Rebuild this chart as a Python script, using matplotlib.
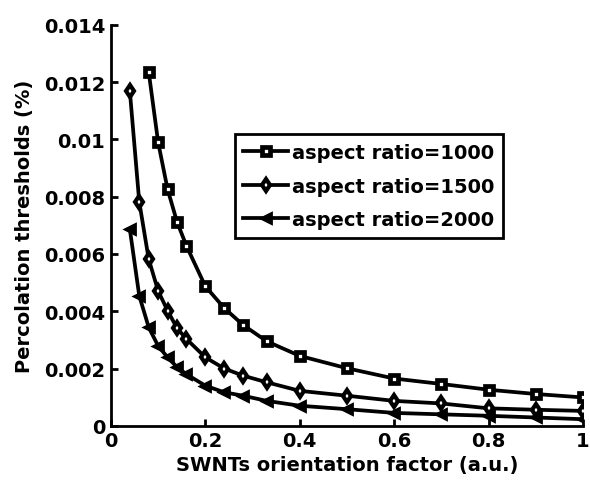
import matplotlib
matplotlib.use("Agg")
import matplotlib.pyplot as plt

x_1000 = [0.08, 0.1, 0.12, 0.14, 0.16, 0.2, 0.24, 0.28, 0.33, 0.4, 0.5, 0.6, 0.7, 0.8, 0.9, 1.0]
y_1000 = [0.01236, 0.0099, 0.00826, 0.00712, 0.00628, 0.00487, 0.00411, 0.00352, 0.00295,
          0.00244, 0.00201, 0.00165, 0.00146, 0.00126, 0.00111, 0.00099]

x_1500 = [0.04, 0.06, 0.08, 0.1, 0.12, 0.14, 0.16, 0.2, 0.24, 0.28, 0.33, 0.4, 0.5, 0.6, 0.7, 0.8, 0.9, 1.0]
y_1500 = [0.0117, 0.00782, 0.00582, 0.00471, 0.00402, 0.00341, 0.00303, 0.00239, 0.00200,
          0.00175, 0.00152, 0.00122, 0.00105, 0.00087, 0.00078, 0.00061, 0.00056, 0.00052]

x_2000 = [0.04, 0.06, 0.08, 0.1, 0.12, 0.14, 0.16, 0.2, 0.24, 0.28, 0.33, 0.4, 0.5, 0.6, 0.7, 0.8, 0.9, 1.0]
y_2000 = [0.00687, 0.00454, 0.00344, 0.00279, 0.00239, 0.00205, 0.00180, 0.00140, 0.00117,
          0.00105, 0.00087, 0.00070, 0.00058, 0.00045, 0.00040, 0.00035, 0.00029, 0.00023]

labels = ["aspect ratio=1000", "aspect ratio=1500", "aspect ratio=2000"]
x_ticks = [0, 0.2, 0.4, 0.6, 0.8, 1]
x_ticklabels = ["0", "0.2", "0.4", "0.6", "0.8", "1"]
y_ticks = [0, 0.002, 0.004, 0.006, 0.008, 0.01, 0.012, 0.014]
y_ticklabels = ["0", "0.002", "0.004", "0.006", "0.008", "0.01", "0.012", "0.014"]

plt.rcParams['font.family'] = ['DejaVu Sans']
plt.rcParams['font.weight'] = 'bold'

fig = plt.figure(figsize=(5.9, 4.85), dpi=100)
ax = fig.add_axes([0.188, 0.120, 0.800, 0.827])

lw = 2.7
ax.plot(x_1000, y_1000, color='black', lw=lw, marker='s', ms=6.0, mfc='white', mec='black', mew=3.4, label=labels[0])
ax.plot(x_1500, y_1500, color='black', lw=lw, marker='d', ms=6.0, mfc='white', mec='black', mew=3.0, label=labels[1])
ax.plot(x_2000, y_2000, color='black', lw=lw, marker='<', ms=7.5, mfc='black', mec='black', mew=2.0, label=labels[2])

ax.set_xlim(0, 1)
ax.set_ylim(0, 0.014)
ax.set_xticks(x_ticks)
ax.set_xticklabels(x_ticklabels)
ax.set_yticks(y_ticks)
ax.set_yticklabels(y_ticklabels)
ax.tick_params(direction='in', length=5, width=2, labelsize=14, pad=4)
for lab in ax.get_xticklabels() + ax.get_yticklabels():
    lab.set_fontweight('bold')
ax.spines['top'].set_visible(False)
ax.spines['right'].set_visible(False)
for s in ['left', 'bottom']:
    ax.spines[s].set_linewidth(2)

ax.set_xlabel("SWNTs orientation factor (a.u.)", fontsize=14, fontweight='bold', labelpad=3)
ax.set_ylabel("Percolation thresholds (%)", fontsize=14, fontweight='bold', labelpad=7)

leg = ax.legend(loc='upper left', bbox_to_anchor=(0.262, 0.727), fontsize=14, frameon=True,
                fancybox=False, edgecolor='black', handlelength=2.3, handletextpad=0.2,
                borderpad=0.45, labelspacing=0.75, borderaxespad=0, framealpha=1)
leg.get_frame().set_linewidth(2)
for t in leg.get_texts():
    t.set_fontweight('bold')

fig.savefig("out.png", dpi=100)
